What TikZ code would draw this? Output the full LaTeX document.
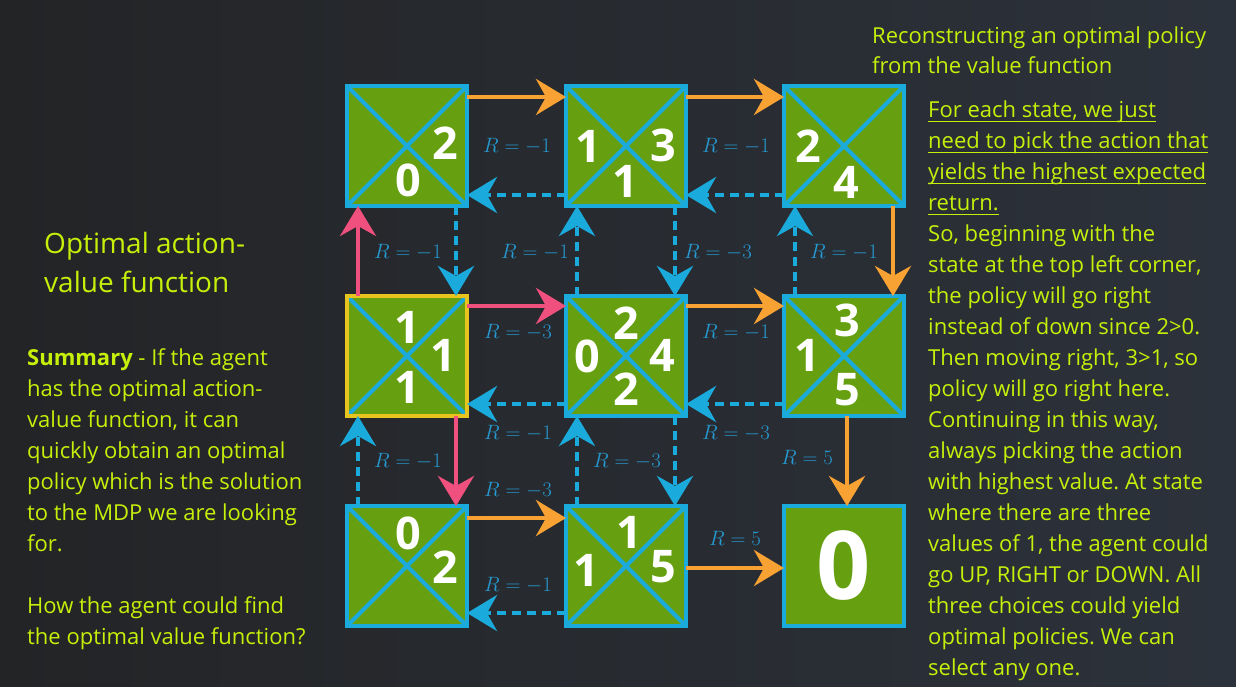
\documentclass[tikz,border=0pt]{standalone}
\usepackage{fontspec}
\setmainfont{Open Sans}
\usetikzlibrary{arrows.meta}

\definecolor{bgl}{HTML}{232426}
\definecolor{bgr}{HTML}{2C323B}
\definecolor{cellgreen}{HTML}{66A010}
\definecolor{edgecyan}{HTML}{1BAADC}
\definecolor{goorange}{HTML}{F8A234}
\definecolor{hotpink}{HTML}{F0507D}
\definecolor{startyellow}{HTML}{E8C41E}
\definecolor{textlime}{HTML}{C6EF0A}
\definecolor{labcyan}{HTML}{2699D0}

% underline at a fixed depth below the baseline
\newcommand\undl[1]{\setbox0=\hbox{#1}\rlap{\copy0}\rule[-5pt]{\wd0}{1.3pt}}

\tikzset{
  cell/.style={draw=edgecyan, fill=cellgreen, line width=4.5pt,
    minimum size=120pt, inner sep=0pt, outer sep=0pt, text=white,
    font=\fontsize{95}{95}\selectfont\bfseries},
  crossed/.style={cell, path picture={
    \draw[edgecyan, line width=4pt]
      (path picture bounding box.north west) -- (path picture bounding box.south east)
      (path picture bounding box.north east) -- (path picture bounding box.south west);}},
  num/.style={text=white, inner sep=0pt, font=\fontsize{45}{45}\selectfont\bfseries},
  lab/.style={text=labcyan, inner sep=0pt, font=\fontsize{20.5}{20.5}\selectfont},
  go/.style={draw=goorange, line width=4.5pt, -{Stealth[length=30pt,width=36pt,inset=10pt]}},
  hot/.style={go, draw=hotpink},
  back/.style={go, draw=edgecyan, dash pattern=on 9pt off 6pt},
  txt/.style={text=textlime, align=left, inner sep=0pt, anchor=base west,
    font=\fontsize{22}{31}\selectfont\frenchspacing},
}

\begin{document}
\begin{tikzpicture}[x=1pt, y=-1pt]
  \useasboundingbox (0,0) rectangle (1236,686);
  \shade[left color=bgl, right color=bgr] (0,0) rectangle (1236,686);

  % grid of states
  \node[crossed] (A) at (407,146) {};
  \node[crossed] (B) at (626,146) {};
  \node[crossed] (C) at (844,146) {};
  \node[crossed, draw=startyellow] (D) at (407,356) {};
  \node[crossed] (E) at (626,356) {};
  \node[crossed] (F) at (844,356) {};
  \node[crossed] (G) at (407,566) {};
  \node[crossed] (H) at (626,566) {};
  \node[cell] (I) at (844,566) {0};

  % action values in the triangles
  \node[num] (a2) at ([shift={(38,-3)}]A.center) {2};
  \node[num] (a0) at ([shift={(1,34)}]A.center) {0};
  \node[num] (b1l) at ([shift={(-38,0)}]B.center) {1};
  \node[num] (b3) at ([shift={(37,-1)}]B.center) {3};
  \node[num] (b1d) at ([shift={(-1,35)}]B.center) {1};
  \node[num] (c2) at ([shift={(-36,0)}]C.center) {2};
  \node[num] (c4) at ([shift={(2,36)}]C.center) {4};
  \node[num] (d1u) at ([shift={(0,-29)}]D.center) {1};
  \node[num] (d1r) at ([shift={(36,-1)}]D.center) {1};
  \node[num] (d1d) at ([shift={(0,31)}]D.center) {1};
  \node[num] (e2u) at ([shift={(0,-33)}]E.center) {2};
  \node[num] (e0) at ([shift={(-39,0)}]E.center) {0};
  \node[num] (e4) at ([shift={(36,-1)}]E.center) {4};
  \node[num] (e2d) at ([shift={(0,33)}]E.center) {2};
  \node[num] (f3) at ([shift={(3,-36)}]F.center) {3};
  \node[num] (f1) at ([shift={(-37,-1)}]F.center) {1};
  \node[num] (f5) at ([shift={(3,34)}]F.center) {5};
  \node[num] (g0) at ([shift={(1,-33)}]G.center) {0};
  \node[num] (g2) at ([shift={(38,1)}]G.center) {2};
  \node[num] (h1u) at ([shift={(3,-34)}]H.center) {1};
  \node[num] (h1l) at ([shift={(-40,4)}]H.center) {1};
  \node[num] (h5) at ([shift={(37,1)}]H.center) {5};

  % transitions: optimal moves
  \draw[go] ([yshift=-11pt]A.north east) -- ([yshift=-11pt]B.north west);
  \draw[go] ([yshift=-11pt]B.north east) -- ([yshift=-11pt]C.north west);
  \draw[go] ([xshift=-11pt]C.south east) -- ([xshift=-11pt]F.north east);
  \draw[go] ([yshift=-10pt]E.north east) -- ([yshift=-10pt]F.north west);
  \draw[go] ([xshift=3pt]F.south) -- ([xshift=3pt]I.north);
  \draw[go] ([yshift=-12pt]G.north east) -- ([yshift=-12pt]H.north west);
  \draw[go] ([yshift=-2pt]H.east) -- ([yshift=-2pt]I.west);

  % transitions: ties at the start state
  \draw[hot] ([xshift=11pt]D.north west) -- ([xshift=11pt]A.south west);
  \draw[hot] ([yshift=-10pt]D.north east) -- ([yshift=-10pt]E.north west);
  \draw[hot] ([xshift=-11pt]D.south east) -- ([xshift=-11pt]G.north east);

  % transitions: other moves
  \draw[back] ([yshift=11pt]B.south west) -- ([yshift=11pt]A.south east);
  \draw[back] ([yshift=11pt]C.south west) -- ([yshift=11pt]B.south east);
  \draw[back] ([xshift=-11pt]A.south east) -- ([xshift=-11pt]D.north east);
  \draw[back] ([xshift=11pt]E.north west) -- ([xshift=11pt]B.south west);
  \draw[back] ([xshift=-11pt]B.south east) -- ([xshift=-11pt]E.north east);
  \draw[back] ([xshift=11pt]F.north west) -- ([xshift=11pt]C.south west);
  \draw[back] ([yshift=12pt]E.south west) -- ([yshift=12pt]D.south east);
  \draw[back] ([yshift=12pt]F.south west) -- ([yshift=12pt]E.south east);
  \draw[back] ([xshift=11pt]G.north west) -- ([xshift=11pt]D.south west);
  \draw[back] ([xshift=11pt]H.north west) -- ([xshift=11pt]E.south west);
  \draw[back] ([xshift=-11pt]E.south east) -- ([xshift=-11pt]H.north east);
  \draw[back] ([yshift=13pt]H.south west) -- ([yshift=13pt]G.south east);

  % rewards
  \node[lab] (r1) at (517,146) {$R=-1$};
  \node[lab] (r2) at (736,146) {$R=-1$};
  \node[lab] (r3) at (408,252) {$R=-1$};
  \node[lab] (r4) at (535,252) {$R=-1$};
  \node[lab] (r5) at (718,252) {$R=-3$};
  \node[lab] (r6) at (844,252) {$R=-1$};
  \node[lab] (r7) at (518,332) {$R=-3$};
  \node[lab] (r8) at (736,332) {$R=-1$};
  \node[lab] (r9) at (518,433) {$R=-1$};
  \node[lab] (r10) at (736,433) {$R=-3$};
  \node[lab] (r11) at (408,461) {$R=-1$};
  \node[lab] (r12) at (627,461) {$R=-3$};
  \node[lab] (r13) at (807,457) {$R=5$};
  \node[lab] (r14) at (518,490) {$R=-3$};
  \node[lab] (r15) at (735,538) {$R=5$};
  \node[lab] (r16) at (518,585) {$R=-1$};

  % left column text (anchored at the baseline of the last line)
  \node[txt, font=\fontsize{28}{39}\selectfont] (title) at (44,292)
    {Optimal action-\\value function};
  \node[txt] (summary) at (27,644)
    {\textbf{Summary} - If the agent\\has the optimal action-\\value function, it can\\quickly obtain an optimal\\policy which is the solution\\to the MDP we are looking\\for.\\[31pt]How the agent could find\\the optimal value function?};

  % right column text (anchored at the baseline of the last line)
  \node[txt, font=\fontsize{22}{30}\selectfont] (head) at (872,73)
    {Reconstructing an optimal policy\\from the value function};
  \node[txt] (policy) at (928,675)
    {\undl{For each state, we just}\\\undl{need to pick the action that}\\\undl{yields the highest expected}\\\undl{return.}\\So, beginning with the\\state at the top left corner,\\the policy will go right\\instead of down since 2>0.\\Then moving right, 3>1, so\\policy will go right here.\\Continuing in this way,\\always picking the action\\with highest value. At state\\where there are three\\values of 1, the agent could\\go UP, RIGHT or DOWN. All\\three choices could yield\\optimal policies. We can\\select any one.};
\end{tikzpicture}
\end{document}
